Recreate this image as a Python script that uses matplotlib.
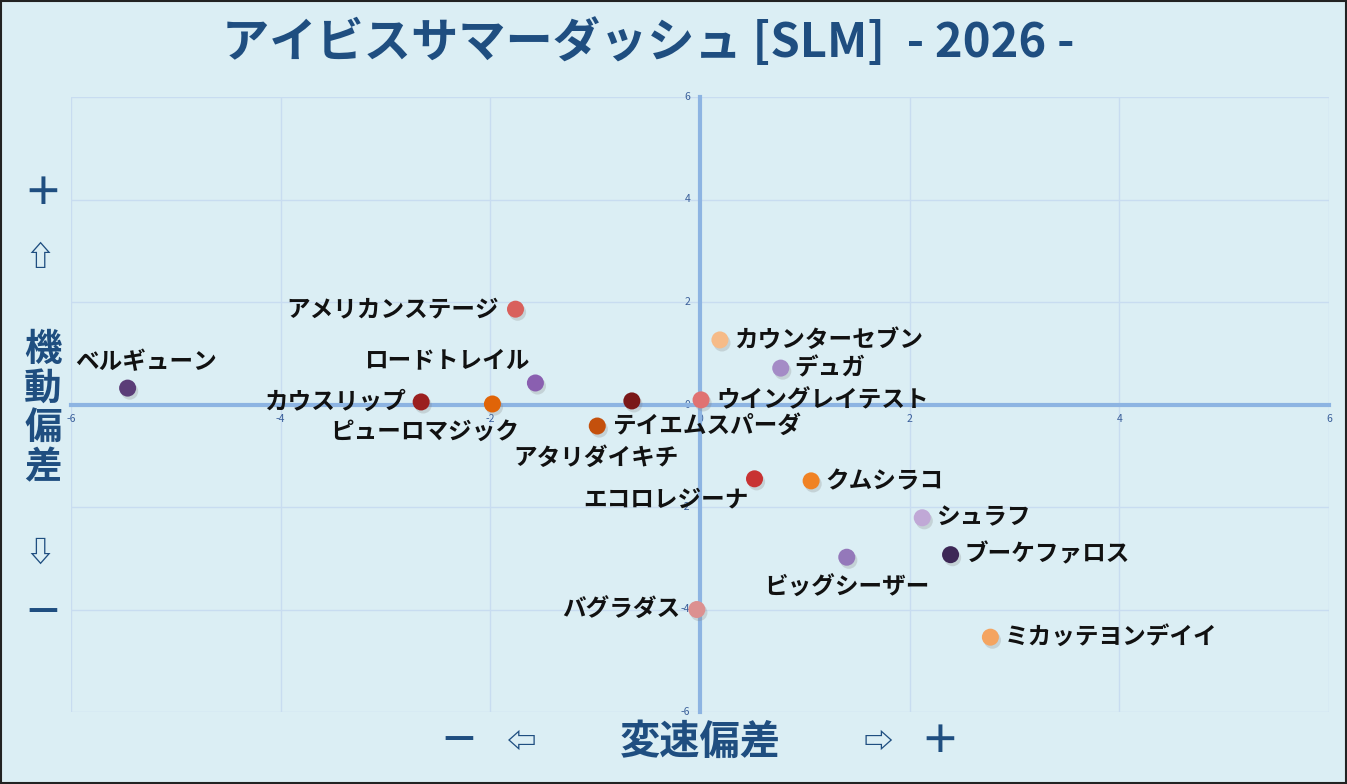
import matplotlib
matplotlib.use("Agg")
import matplotlib.pyplot as plt
from matplotlib.patches import Rectangle

plt.rcParams['font.family'] = ['Noto Sans CJK JP', 'DejaVu Sans']

# ---- data ----
names = ["ベルギューン", "アメリカンステージ", "ロードトレイル", "カウスリップ",
         "ピューロマジック", "アタリダイキチ", "テイエムスパーダ", "ウイングレイテスト",
         "カウンターセブン", "デュガ", "エコロレジーナ", "クムシラコ", "シュラフ",
         "ビッグシーザー", "ブーケファロス", "バグラダス", "ミカッテヨンデイイ"]
speed_dev = [-5.46, -1.76, -1.57, -2.66, -1.98, -0.65, -0.98, 0.01,
             0.19, 0.77, 0.52, 1.06, 2.12, 1.40, 2.39, -0.03, 2.77]
mobility_dev = [0.32, 1.86, 0.42, 0.05, 0.01, 0.07, -0.42, 0.09,
                1.26, 0.71, -1.45, -1.49, -2.21, -2.98, -2.93, -4.00, -4.54]
ticks = [-6, -4, -2, 0, 2, 4, 6]
title = "アイビスサマーダッシュ [SLM]  - 2026 -"

# ---- styles ----
colors = ["#5b3d78", "#d9605c", "#8a5fb0", "#9b2020", "#e06408", "#7a1818",
          "#c4500c", "#e07272", "#f6bb88", "#a48bc6", "#c83232", "#f08224",
          "#c0a8d6", "#9478ba", "#3d2856", "#dc9090", "#f4a460"]
# label offsets in points (dx, dy) and alignment
label_pos = [(13, 19, 'center'), (-12, 0, 'right'), (-4, 16, 'right'), (-11, 0, 'right'),
             (-49, -20, 'center'), (-26, -41, 'center'), (11, 0, 'left'), (11, 0, 'left'),
             (10, 0, 'left'), (10, 0, 'left'), (-64, -15, 'center'), (10, 0, 'left'),
             (10, 0, 'left'), (0, -22, 'center'), (10, 0, 'left'), (-12, 0, 'right'),
             (10, 0, 'left')]

bg = "#dbeef4"
navy = "#1f4e80"

fig = plt.figure(figsize=(13.47, 7.84), dpi=100)
fig.patch.set_facecolor(bg)
fig.add_artist(Rectangle((0.0005, 0.0008), 0.999, 0.9985, transform=fig.transFigure,
                         fill=False, edgecolor="#222222", linewidth=1.5))

ax = fig.add_axes([71/1347, 1-712/784, (1329-71)/1347, (712-97)/784])
ax.set_facecolor(bg)
ax.set_xlim(-6, 6)
ax.set_ylim(-6, 6)
ax.set_xticks(ticks)
ax.set_yticks(ticks)
ax.set_xticklabels([str(t) for t in ticks])
ax.set_yticklabels([str(t) for t in ticks])
ax.grid(True, color="#c8dcf0", linewidth=1.0)
ax.set_axisbelow(True)
for s in ['top', 'right']:
    ax.spines[s].set_visible(False)
for s in ['left', 'bottom']:
    ax.spines[s].set_position('zero')
    ax.spines[s].set_color("#8db4e2")
    ax.spines[s].set_linewidth(3)
    ax.spines[s].set_zorder(1.5)
ax.tick_params(axis='x', length=0, labelsize=7.5, labelcolor="#3a5f9a", pad=7)
ax.tick_params(axis='y', length=0, labelsize=7.5, labelcolor="#3a5f9a", pad=7)
for lbl in ax.get_yticklabels():
    lbl.set_verticalalignment('center')

for x, y in zip(speed_dev, mobility_dev):
    ax.scatter([x + 0.02], [y - 0.06], s=150, c="#808080", alpha=0.25, zorder=2.5,
               edgecolors='none')
ax.scatter(speed_dev, mobility_dev, s=150, c=colors, zorder=3,
           edgecolors='none')

for name, x, y, (dx, dy, ha) in zip(names, speed_dev, mobility_dev, label_pos):
    ax.annotate(name, (x, y), xytext=(dx, dy), textcoords='offset points',
                ha=ha, va='center', fontsize=17, fontweight='bold', color="#111111",
                zorder=4)

fig.text(648/1347, 1-43/784, title, ha='center', va='center', fontsize=34,
         fontweight='bold', color=navy)

# y-axis side annotations
fig.text(43/1347, 1-193/784, "＋", ha='center', va='center', fontsize=28, fontweight='bold', color=navy)
fig.text(40/1347, 1-257/784, "⇧", ha='center', va='center', fontsize=21, color=navy, fontweight='bold')
fig.text(43/1347, 1-408/784, "機\n動\n偏\n差", ha='center', va='center', fontsize=27,
         fontweight='bold', color=navy, linespacing=1.0)
fig.text(40/1347, 1-553/784, "⇩", ha='center', va='center', fontsize=21, color=navy, fontweight='bold')
fig.text(43/1347, 1-613/784, "－", ha='center', va='center', fontsize=28, fontweight='bold', color=navy)

# x-axis side annotations
fig.text(459/1347, 1-741/784, "－", ha='center', va='center', fontsize=28, fontweight='bold', color=navy)
fig.text(522/1347, 1-742/784, "⇦", ha='center', va='center', fontsize=21, color=navy, fontweight='bold')
fig.text(700/1347, 1-742/784, "変速偏差", ha='center', va='center', fontsize=29,
         fontweight='bold', color=navy)
fig.text(878/1347, 1-742/784, "⇨", ha='center', va='center', fontsize=21, color=navy, fontweight='bold')
fig.text(940/1347, 1-741/784, "＋", ha='center', va='center', fontsize=28, fontweight='bold', color=navy)

fig.savefig("out.png", dpi=100, facecolor=bg)
